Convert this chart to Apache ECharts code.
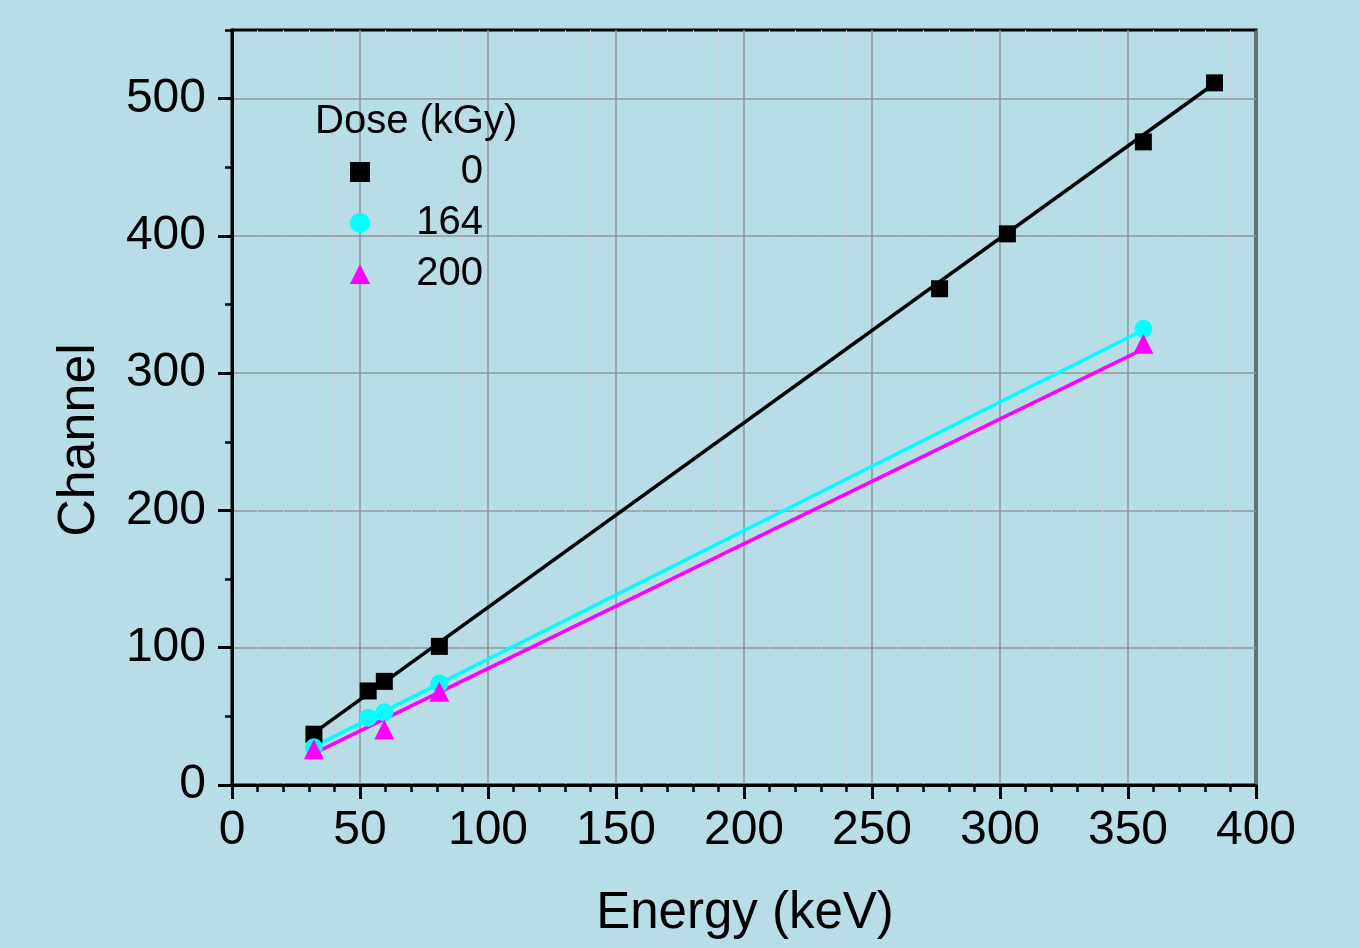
<!DOCTYPE html>
<html>
<head>
<meta charset="utf-8">
<script src="https://cdn.jsdelivr.net/npm/echarts@6/dist/echarts.min.js"></script>
<style>
html,body{margin:0;padding:0;background:#b7dde6;}
#chart{width:1359px;height:948px;}
</style>
</head>
<body>
<div id="chart"></div>
<script>
// Data
const energy0 = [32, 53.2, 59.5, 81, 276.4, 302.9, 356, 383.8];
const channel0 = [37, 68.5, 75.5, 101, 361.5, 401.5, 468.5, 511.5];
const energy164 = [32, 53.2, 59.5, 81, 356];
const channel164 = [27.5, 49, 53, 74, 332.3];
const energy200 = [32, 59.5, 81, 356];
const channel200 = [26, 40.5, 68, 321.5];
// Fitted straight lines, end points
const fitX0 = [32, 383.8];
const fitY0 = [38, 511];
const fitX164 = [32, 356];
const fitY164 = [28, 331.5];
const fitX200 = [32, 356];
const fitY200 = [23, 317.5];
const doseNames = ['0', '164', '200'];
const xTicks = [0, 50, 100, 150, 200, 250, 300, 350, 400];
const yTicks = [0, 100, 200, 300, 400, 500];

const pairs = (xs, ys) => xs.map((x, i) => [x, ys[i]]);
const FONT = 'Liberation Sans, Arial, sans-serif';

const chart = echarts.init(document.getElementById('chart'));
chart.setOption({
  backgroundColor: '#b7dde6',
  animation: false,
  title: {
    text: 'Dose (kGy)',
    left: 315, top: 102, padding: 0,
    textStyle: {fontFamily: FONT, fontSize: 40, fontWeight: 'normal', color: '#000'}
  },
  legend: {
    data: doseNames,
    orient: 'vertical',
    left: 350, top: 152, padding: 0,
    itemWidth: 20, itemHeight: 20,
    itemGap: 11,
    formatter: n => '{a|' + n + '}',
    textStyle: {
      fontFamily: FONT, fontSize: 40, color: '#000',
      rich: {a: {width: 108, align: 'right', fontFamily: FONT, fontSize: 40, lineHeight: 40, color: '#000'}}
    }
  },
  grid: {
    left: 232, right: 103, top: 30, bottom: 163,
    show: true, borderColor: '#000', borderWidth: 3, backgroundColor: 'transparent'
  },
  xAxis: {
    type: 'value', min: 0, max: 400, interval: 50,
    axisLine: {lineStyle: {color: '#000', width: 3}},
    axisTick: {show: true, inside: false, length: 14, lineStyle: {color: '#000', width: 3}},
    minorTick: {show: true, splitNumber: 5, length: 7, lineStyle: {color: '#000', width: 2.5}},
    splitLine: {show: true, lineStyle: {color: '#8e9697', width: 1.5}},
    minorSplitLine: {show: true, lineStyle: {color: '#d3c9cb', width: 1, type: [4, 4]}},
    axisLabel: {fontFamily: FONT, fontSize: 48, color: '#000', margin: 22,
      customValues: xTicks}
  },
  yAxis: [{
    type: 'value', min: 0, max: 550, interval: 100,
    axisLine: {show: true, lineStyle: {color: '#000', width: 3}},
    axisTick: {show: true, inside: false, length: 14, lineStyle: {color: '#000', width: 3},
      customValues: yTicks},
    splitLine: {show: true, lineStyle: {color: '#8e9697', width: 1.5}},
    axisLabel: {fontFamily: FONT, fontSize: 48, color: '#000', margin: 26,
      customValues: yTicks}
  }, {
    type: 'value', min: 0, max: 550, interval: 50, position: 'left', offset: 0,
    axisLine: {show: false},
    axisTick: {show: true, inside: false, length: 7, lineStyle: {color: '#000', width: 2.5}},
    splitLine: {show: false},
    axisLabel: {show: false}
  }],
  graphic: [{
    type: 'text', x: 80, y: 440, rotation: Math.PI / 2,
    style: {text: 'Channel', font: '52px ' + FONT, fill: '#000', textAlign: 'center', textVerticalAlign: 'middle'}
  }, {
    type: 'text', x: 745, y: 914,
    style: {text: 'Energy (keV)', font: '51px ' + FONT, fill: '#000', textAlign: 'center', textVerticalAlign: 'middle'}
  }],
  series: [
    {name: 'fit0', type: 'line', data: pairs(fitX0, fitY0), showSymbol: false, symbol: 'none',
      lineStyle: {color: '#000', width: 3.5}, z: 2, silent: true},
    {name: 'fit164', type: 'line', data: pairs(fitX164, fitY164), showSymbol: false, symbol: 'none',
      lineStyle: {color: '#00ffff', width: 3.5}, z: 2, silent: true},
    {name: 'fit200', type: 'line', data: pairs(fitX200, fitY200), showSymbol: false, symbol: 'none',
      lineStyle: {color: '#ff00ff', width: 3.5}, z: 2, silent: true},
    {name: '0', type: 'scatter', data: pairs(energy0, channel0), symbol: 'rect', symbolSize: 17,
      itemStyle: {color: '#000', opacity: 1}, z: 3},
    {name: '164', type: 'scatter', data: pairs(energy164, channel164), symbol: 'circle', symbolSize: 18,
      itemStyle: {color: '#00ffff', opacity: 1}, z: 3},
    {name: '200', type: 'scatter', data: pairs(energy200, channel200), symbol: 'triangle', symbolSize: 20,
      itemStyle: {color: '#ff00ff', opacity: 1}, z: 3}
  ]
});
</script>
</body>
</html>
